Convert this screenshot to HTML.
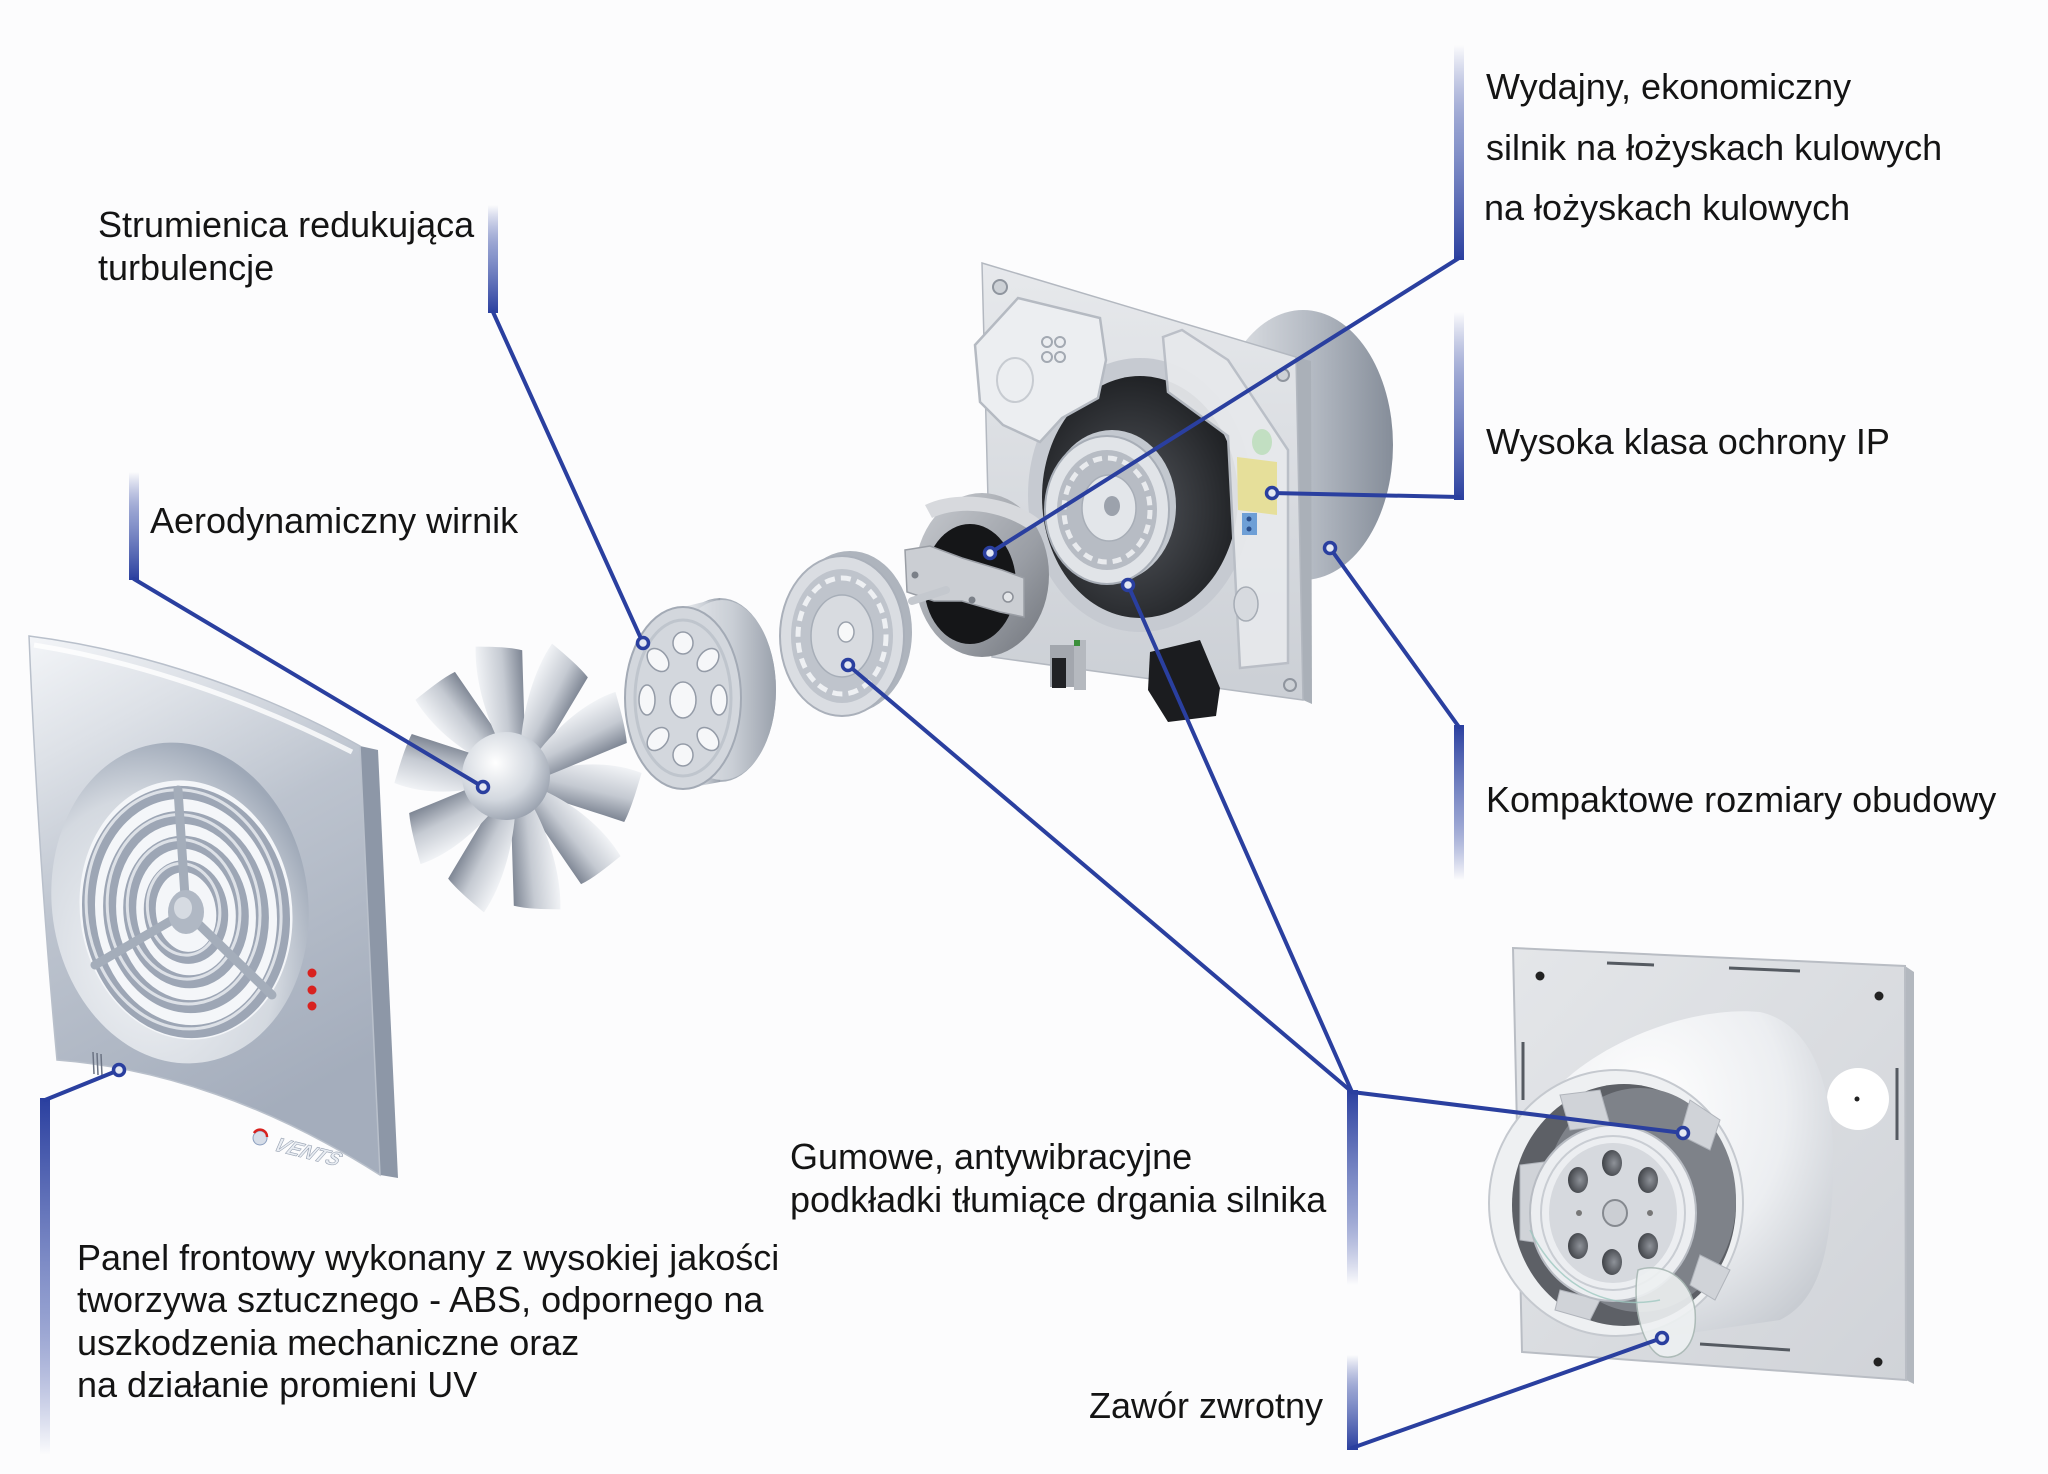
<!DOCTYPE html>
<html>
<head>
<meta charset="utf-8">
<style>
  html,body{margin:0;padding:0;background:#fcfcfd;}
  svg{display:block;}
  .t{font-family:"Liberation Sans",Arial,sans-serif;font-size:36px;fill:#141414;}
</style>
</head>
<body>
<svg width="2048" height="1474" viewBox="0 0 2048 1474" xmlns="http://www.w3.org/2000/svg">
  <defs>
    <linearGradient id="barUp" x1="0" y1="0" x2="0" y2="1">
      <stop offset="0" stop-color="#2a3f9f" stop-opacity="0"/>
      <stop offset="0.45" stop-color="#6f7fc0" stop-opacity="0.8"/>
      <stop offset="1" stop-color="#2a3f9f"/>
    </linearGradient>
    <linearGradient id="barDown" x1="0" y1="0" x2="0" y2="1">
      <stop offset="0" stop-color="#2a3f9f"/>
      <stop offset="0.55" stop-color="#6f7fc0" stop-opacity="0.8"/>
      <stop offset="1" stop-color="#2a3f9f" stop-opacity="0"/>
    </linearGradient>
    <linearGradient id="panelFace" x1="0" y1="0" x2="0.35" y2="1">
      <stop offset="0" stop-color="#f3f5f8"/>
      <stop offset="0.22" stop-color="#dde1e7"/>
      <stop offset="0.5" stop-color="#bcc3ce"/>
      <stop offset="1" stop-color="#a4adbc"/>
    </linearGradient>
    <radialGradient id="recess" cx="0.35" cy="0.65" r="0.7">
      <stop offset="0" stop-color="#f2f4f7"/>
      <stop offset="0.7" stop-color="#d4d9e0"/>
      <stop offset="1" stop-color="#9ea8b7"/>
    </radialGradient>
    <linearGradient id="bladeG" x1="0" y1="0" x2="0" y2="1">
      <stop offset="0" stop-color="#f1f3f6"/>
      <stop offset="0.55" stop-color="#c5cad2"/>
      <stop offset="1" stop-color="#7d8593"/>
    </linearGradient>
    <radialGradient id="hubG" cx="0.38" cy="0.35" r="0.7">
      <stop offset="0" stop-color="#ffffff"/>
      <stop offset="0.6" stop-color="#d3d8df"/>
      <stop offset="1" stop-color="#98a0ad"/>
    </radialGradient>
    <linearGradient id="rimG" x1="0" y1="0" x2="1" y2="0">
      <stop offset="0" stop-color="#eef0f3"/>
      <stop offset="0.6" stop-color="#c9ced5"/>
      <stop offset="1" stop-color="#9aa1ac"/>
    </linearGradient>
    <linearGradient id="cylG" x1="0" y1="0" x2="1" y2="0">
      <stop offset="0" stop-color="#e6e8eb"/>
      <stop offset="0.55" stop-color="#b4bac3"/>
      <stop offset="1" stop-color="#858d99"/>
    </linearGradient>
    <linearGradient id="plateG" x1="0" y1="0" x2="0" y2="1">
      <stop offset="0" stop-color="#e7e9ec"/>
      <stop offset="1" stop-color="#cbcfd5"/>
    </linearGradient>
    <radialGradient id="darkG" cx="0.45" cy="0.55" r="0.6">
      <stop offset="0" stop-color="#55585e"/>
      <stop offset="1" stop-color="#1c1e21"/>
    </radialGradient>
    <linearGradient id="motorRing" x1="0" y1="0" x2="1" y2="1">
      <stop offset="0" stop-color="#c9ccd1"/>
      <stop offset="0.6" stop-color="#9a9ea5"/>
      <stop offset="1" stop-color="#6f737a"/>
    </linearGradient>
    <linearGradient id="plate2G" x1="0" y1="0" x2="1" y2="1">
      <stop offset="0" stop-color="#e4e6e9"/>
      <stop offset="1" stop-color="#d0d3d8"/>
    </linearGradient>
    <radialGradient id="tubeG" cx="0.35" cy="0.3" r="0.8">
      <stop offset="0" stop-color="#ffffff"/>
      <stop offset="0.6" stop-color="#eceef1"/>
      <stop offset="1" stop-color="#c8ccd2"/>
    </radialGradient>
    <radialGradient id="holeG" cx="0.6" cy="0.5" r="0.6">
      <stop offset="0" stop-color="#8e9299"/>
      <stop offset="1" stop-color="#3f4247"/>
    </radialGradient>
  </defs>

  <rect width="2048" height="1474" fill="#fcfcfd"/>

  <!-- ================= FRONT PANEL ================= -->
  <path d="M360,746 L378,750 L398,1178 L380,1175 Z" fill="#8d97a7"/>
  <path d="M29,636 C140,650 260,690 360,746 L380,1175 C270,1105 160,1068 57,1060 C44,920 35,780 29,636 Z" fill="url(#panelFace)" stroke="#b9c0cb" stroke-width="1.5"/>
  <path d="M34,645 C140,662 250,700 352,752" fill="none" stroke="#ffffff" stroke-width="5" opacity="0.8"/>
  <!-- grille -->
  <ellipse cx="180" cy="903" rx="128" ry="161" transform="rotate(-8 180 903)" fill="url(#recess)"/>
  <ellipse cx="186" cy="910" rx="106" ry="130" transform="rotate(-8 186 910)" fill="#f4f6f9"/>
  <g fill="none" transform="rotate(-8 186 912)">
    <ellipse cx="186" cy="912" rx="97" ry="120" stroke="#9da6b5" stroke-width="13"/>
    <ellipse cx="184" cy="909" rx="97" ry="120" stroke="#dde1e7" stroke-width="3"/>
    <ellipse cx="186" cy="912" rx="76" ry="95" stroke="#9da6b5" stroke-width="13"/>
    <ellipse cx="184" cy="909" rx="76" ry="95" stroke="#dde1e7" stroke-width="3"/>
    <ellipse cx="186" cy="912" rx="56" ry="70" stroke="#9da6b5" stroke-width="13"/>
    <ellipse cx="184" cy="909" rx="56" ry="70" stroke="#dde1e7" stroke-width="3"/>
    <ellipse cx="186" cy="912" rx="36" ry="46" stroke="#9da6b5" stroke-width="12"/>
    <ellipse cx="184" cy="909" rx="36" ry="46" stroke="#dde1e7" stroke-width="3"/>
  </g>
  <g stroke="#a4adba" stroke-width="9" stroke-linecap="round">
    <line x1="186" y1="912" x2="178" y2="790"/>
    <line x1="186" y1="912" x2="95" y2="965"/>
    <line x1="186" y1="912" x2="272" y2="995"/>
  </g>
  <ellipse cx="186" cy="912" rx="18" ry="22" fill="#b0b8c4"/>
  <ellipse cx="183" cy="908" rx="9" ry="11" fill="#d6dbe2"/>
  <!-- red dots -->
  <circle cx="312" cy="973" r="4.5" fill="#d8221f"/>
  <circle cx="312" cy="990" r="4.5" fill="#d8221f"/>
  <circle cx="312" cy="1006" r="4.5" fill="#d8221f"/>
  <!-- vents marks -->
  <g stroke="#6b7383" stroke-width="1.5">
    <line x1="93" y1="1052" x2="94" y2="1074"/>
    <line x1="97" y1="1053" x2="98" y2="1075"/>
    <line x1="101" y1="1054" x2="102" y2="1076"/>
  </g>
  <!-- logo -->
  <circle cx="260" cy="1138" r="7" fill="#d6dde8" stroke="#8da0c0" stroke-width="1"/>
  <path d="M254,1133 A7,7 0 0 1 267,1137" fill="none" stroke="#d8221f" stroke-width="2.5"/>
  <text x="0" y="0" transform="translate(272,1150) rotate(14) skewX(-18)" font-family="Liberation Sans, Arial, sans-serif" font-size="20" font-weight="bold" font-style="italic" fill="#e9edf3" stroke="#97a1b1" stroke-width="0.6">VENTS</text>

  <!-- ================= IMPELLER ================= -->
  <g transform="translate(518,778) scale(1,1.13)">
    <g transform="rotate(12)"><path d="M26,-12 C55,-26 90,-34 120,-30 C118,-12 116,4 112,16 C85,14 55,12 26,10 Z" fill="url(#bladeG)"/></g>
    <g transform="rotate(48)"><path d="M26,-12 C55,-26 90,-34 120,-30 C118,-12 116,4 112,16 C85,14 55,12 26,10 Z" fill="url(#bladeG)"/></g>
    <g transform="rotate(84)"><path d="M26,-12 C55,-26 90,-34 120,-30 C118,-12 116,4 112,16 C85,14 55,12 26,10 Z" fill="url(#bladeG)"/></g>
    <g transform="rotate(120)"><path d="M26,-12 C55,-26 90,-34 120,-30 C118,-12 116,4 112,16 C85,14 55,12 26,10 Z" fill="url(#bladeG)"/></g>
    <g transform="rotate(156)"><path d="M26,-12 C55,-26 90,-34 120,-30 C118,-12 116,4 112,16 C85,14 55,12 26,10 Z" fill="url(#bladeG)"/></g>
    <g transform="rotate(192)"><path d="M26,-12 C55,-26 90,-34 120,-30 C118,-12 116,4 112,16 C85,14 55,12 26,10 Z" fill="url(#bladeG)"/></g>
    <g transform="rotate(228)"><path d="M26,-12 C55,-26 90,-34 120,-30 C118,-12 116,4 112,16 C85,14 55,12 26,10 Z" fill="url(#bladeG)"/></g>
    <g transform="rotate(264)"><path d="M26,-12 C55,-26 90,-34 120,-30 C118,-12 116,4 112,16 C85,14 55,12 26,10 Z" fill="url(#bladeG)"/></g>
    <g transform="rotate(300)"><path d="M26,-12 C55,-26 90,-34 120,-30 C118,-12 116,4 112,16 C85,14 55,12 26,10 Z" fill="url(#bladeG)"/></g>
    <g transform="rotate(336)"><path d="M26,-12 C55,-26 90,-34 120,-30 C118,-12 116,4 112,16 C85,14 55,12 26,10 Z" fill="url(#bladeG)"/></g>
  </g>
  <circle cx="506" cy="776" r="44" fill="url(#hubG)"/>

  <!-- ================= DIFFUSER (Strumienica) ================= -->
  <ellipse cx="720" cy="690" rx="56" ry="92" fill="#a9b0ba"/>
  <path d="M683,607 L720,598 L720,782 L683,789 Z" fill="url(#rimG)"/>
  <ellipse cx="722" cy="690" rx="54" ry="90" fill="url(#rimG)"/>
  <ellipse cx="683" cy="698" rx="58" ry="91" fill="#d3d7dd" stroke="#a3aab5" stroke-width="2"/>
  <ellipse cx="683" cy="698" rx="48" ry="78" fill="none" stroke="#bfc5cd" stroke-width="3"/>
  <g fill="#f6f7f9" stroke="#949ba7" stroke-width="1.5">
    <ellipse cx="719" cy="700" rx="8" ry="15"/>
    <ellipse cx="708" cy="739" rx="9" ry="13" transform="rotate(-40 708 739)"/>
    <ellipse cx="683" cy="755" rx="10" ry="11"/>
    <ellipse cx="658" cy="739" rx="9" ry="13" transform="rotate(40 658 739)"/>
    <ellipse cx="647" cy="700" rx="8" ry="15"/>
    <ellipse cx="658" cy="660" rx="9" ry="13" transform="rotate(-40 658 660)"/>
    <ellipse cx="683" cy="643" rx="10" ry="11"/>
    <ellipse cx="708" cy="660" rx="9" ry="13" transform="rotate(40 708 660)"/>
    <ellipse cx="683" cy="700" rx="13" ry="18"/>
  </g>

  <!-- ================= RUBBER DISC ================= -->
  <ellipse cx="850" cy="632" rx="62" ry="81" fill="#aeb4bd"/>
  <ellipse cx="842" cy="636" rx="62" ry="80" fill="#dadde2" stroke="#aab0ba" stroke-width="2"/>
  <ellipse cx="842" cy="636" rx="51" ry="67" fill="#bfc4cc"/>
  <ellipse cx="842" cy="636" rx="44" ry="58" fill="none" stroke="#eef0f3" stroke-width="5" stroke-dasharray="10 6"/>
  <ellipse cx="842" cy="636" rx="31" ry="41" fill="#d8dbe0" stroke="#a7aeb8" stroke-width="1.5"/>
  <ellipse cx="846" cy="632" rx="8" ry="10" fill="#f7f8f9" stroke="#9aa1ac" stroke-width="1.5"/>

  <!-- ================= HOUSING (top right) ================= -->
  <ellipse cx="1303" cy="445" rx="90" ry="135" fill="url(#cylG)"/>
  <path d="M1296,357 L1311,361 L1312,704 L1303,700 Z" fill="#aab0b8"/>
  <path d="M982,263 L1296,357 L1303,700 L992,657 Z" fill="url(#plateG)" stroke="#b3b8c0" stroke-width="1.5"/>
  <!-- corner screw holes -->
  <circle cx="1000" cy="287" r="7" fill="#cdd1d6" stroke="#8f959e" stroke-width="2"/>
  <circle cx="1283" cy="375" r="6" fill="#cdd1d6" stroke="#8f959e" stroke-width="2"/>
  <circle cx="1290" cy="685" r="6" fill="#cdd1d6" stroke="#8f959e" stroke-width="2"/>
  <!-- bore -->
  <ellipse cx="1140" cy="495" rx="112" ry="137" fill="#c6cad1"/>
  <ellipse cx="1140" cy="497" rx="98" ry="121" fill="url(#darkG)"/>
  <!-- upper-left terminal box -->
  <path d="M975,345 L1018,298 L1100,318 L1106,360 L1098,398 L1062,418 L1040,442 L1003,425 L980,402 Z" fill="#eceef1" stroke="#b5bac2" stroke-width="2.5"/>
  <circle cx="1047" cy="342" r="5" fill="none" stroke="#a3a9b2" stroke-width="2"/>
  <circle cx="1060" cy="342" r="5" fill="none" stroke="#a3a9b2" stroke-width="2"/>
  <circle cx="1047" cy="357" r="5" fill="none" stroke="#a3a9b2" stroke-width="2"/>
  <circle cx="1060" cy="357" r="5" fill="none" stroke="#a3a9b2" stroke-width="2"/>
  <ellipse cx="1015" cy="380" rx="18" ry="22" fill="none" stroke="#c7cbd1" stroke-width="2"/>
  <!-- right terminal strip -->
  <path d="M1163,337 L1182,330 L1228,360 L1288,450 L1288,663 L1240,668 L1228,436 L1168,392 Z" fill="#e7e9ec" stroke="#b9bec6" stroke-width="2.5" opacity="0.95"/>
  <ellipse cx="1262" cy="442" rx="10" ry="13" fill="#b9dcb8" opacity="0.8"/>
  <path d="M1237,457 L1277,462 L1277,515 L1238,510 Z" fill="#e6df9a"/>
  <rect x="1242" y="513" width="15" height="22" fill="#6e9fd6"/>
  <circle cx="1249" cy="519" r="2.5" fill="#2b4f8c"/>
  <circle cx="1249" cy="529" r="2.5" fill="#2b4f8c"/>
  <ellipse cx="1246" cy="604" rx="12" ry="17" fill="#d7dadf" stroke="#a6acb5" stroke-width="1.5"/>
  <!-- mount disc -->
  <ellipse cx="1112" cy="506" rx="64" ry="76" fill="#c3c8cf"/>
  <ellipse cx="1107" cy="510" rx="62" ry="74" fill="#e1e4e8" stroke="#a8aeb7" stroke-width="2"/>
  <ellipse cx="1107" cy="510" rx="50" ry="60" fill="#b7bcc4"/>
  <ellipse cx="1107" cy="510" rx="43" ry="52" fill="none" stroke="#e9ebee" stroke-width="5" stroke-dasharray="9 6"/>
  <ellipse cx="1109" cy="508" rx="27" ry="33" fill="#e3e6ea" stroke="#a8aeb7" stroke-width="1.5"/>
  <ellipse cx="1112" cy="506" rx="8" ry="10" fill="#9ca2ac"/>
  <!-- lower black components -->
  <path d="M1150,652 L1200,640 L1220,688 L1216,716 L1168,722 L1148,690 Z" fill="#1b1c1f"/>
  <rect x="1050" y="645" width="24" height="42" fill="#a3a7ae"/>
  <rect x="1052" y="658" width="14" height="30" fill="#202124"/>
  <rect x="1074" y="640" width="12" height="50" fill="#b5b9bf"/>
  <rect x="1074" y="640" width="6" height="6" fill="#3b8f3b"/>
  <!-- motor -->
  <ellipse cx="982" cy="575" rx="67" ry="82" fill="url(#motorRing)"/>
  <path d="M925,505 C955,490 1010,495 1040,520 L1030,530 C1000,510 960,505 932,518 Z" fill="#d7d9dd"/>
  <ellipse cx="970" cy="584" rx="46" ry="60" fill="#151618"/>
  <path d="M905,550 L930,546 L962,558 L1002,570 L1024,578 L1024,617 L1000,612 L962,601 L934,601 L907,592 Z" fill="#cbced3" stroke="#9a9ea5" stroke-width="1.5"/>
  <circle cx="915" cy="575" r="3.5" fill="#7b8088"/>
  <circle cx="972" cy="600" r="3.5" fill="#7b8088"/>
  <circle cx="1008" cy="597" r="5" fill="#e4e6e9" stroke="#8c9098" stroke-width="1.5"/>
  <line x1="912" y1="601" x2="946" y2="590" stroke="#c4c8ce" stroke-width="8" stroke-linecap="round"/>

  <!-- ================= ASSEMBLED FAN (bottom right) ================= -->
  <path d="M1905,966 L1914,972 L1914,1384 L1906,1380 Z" fill="#b3b8bf"/>
  <path d="M1513,948 L1905,966 L1906,1380 L1522,1352 Z" fill="url(#plate2G)" stroke="#b9bdc4" stroke-width="2"/>
  <g stroke="#555a61" stroke-width="3">
    <line x1="1607" y1="963" x2="1654" y2="965"/>
    <line x1="1729" y1="968" x2="1800" y2="971"/>
    <line x1="1523" y1="1042" x2="1523" y2="1100"/>
    <line x1="1897" y1="1068" x2="1897" y2="1140"/>
    <line x1="1700" y1="1344" x2="1790" y2="1350"/>
  </g>
  <circle cx="1540" cy="976" r="4.5" fill="#222"/>
  <circle cx="1879" cy="996" r="4.5" fill="#222"/>
  <circle cx="1878" cy="1362" r="4.5" fill="#222"/>
  <circle cx="1858" cy="1099" r="31" fill="#ffffff"/>
  <circle cx="1857" cy="1099" r="2.5" fill="#222"/>
  <!-- tube -->
  <path d="M1548,1098 C1590,1045 1690,1005 1760,1012 C1818,1025 1836,1100 1833,1180 C1830,1260 1816,1302 1780,1320 L1670,1336 Z" fill="url(#tubeG)"/>
  <!-- front ring -->
  <ellipse cx="1616" cy="1203" rx="127" ry="133" fill="#eef0f2" stroke="#c5c9cf" stroke-width="2"/>
  <ellipse cx="1624" cy="1205" rx="112" ry="121" fill="#5d6066"/>
  <ellipse cx="1640" cy="1200" rx="96" ry="112" fill="#7e8289"/>
  <!-- vanes -->
  <g fill="#d0d3d8" stroke="#b0b4bb" stroke-width="1">
    <path d="M1520,1165 L1560,1160 L1555,1245 L1520,1240 Z"/>
    <path d="M1560,1095 L1600,1090 L1610,1125 L1570,1130 Z"/>
    <path d="M1690,1100 L1720,1120 L1710,1150 L1680,1135 Z"/>
    <path d="M1700,1255 L1730,1270 L1715,1300 L1690,1285 Z"/>
    <path d="M1560,1290 L1600,1300 L1590,1320 L1555,1310 Z"/>
  </g>
  <!-- hub disc -->
  <ellipse cx="1613" cy="1213" rx="83" ry="88" fill="#eceef1" stroke="#b8bcc3" stroke-width="2"/>
  <ellipse cx="1613" cy="1213" rx="72" ry="77" fill="none" stroke="#c9cdd3" stroke-width="2"/>
  <ellipse cx="1613" cy="1213" rx="64" ry="70" fill="#d6d9de"/>
  <g fill="url(#holeG)">
    <ellipse cx="1578" cy="1180" rx="10" ry="13"/>
    <ellipse cx="1612" cy="1163" rx="10" ry="13"/>
    <ellipse cx="1648" cy="1180" rx="10" ry="13"/>
    <ellipse cx="1578" cy="1246" rx="10" ry="13"/>
    <ellipse cx="1612" cy="1262" rx="10" ry="13"/>
    <ellipse cx="1648" cy="1246" rx="10" ry="13"/>
  </g>
  <circle cx="1579" cy="1213" r="3" fill="#777"/>
  <circle cx="1650" cy="1213" r="3" fill="#777"/>
  <ellipse cx="1615" cy="1213" rx="12" ry="13" fill="#cbced3" stroke="#85898f" stroke-width="2"/>
  <!-- valve flap -->
  <path d="M1638,1270 C1660,1262 1690,1275 1695,1310 C1698,1345 1680,1362 1660,1356 C1640,1345 1632,1300 1638,1270 Z" fill="#eef1f2" stroke="#a9b8b4" stroke-width="1.5" opacity="0.9"/>
  <path d="M1530,1230 C1560,1290 1610,1310 1660,1300" fill="none" stroke="#9fc8c0" stroke-width="1.5" opacity="0.8"/>

  <!-- ================= CONNECTOR BARS ================= -->
  <rect x="488" y="205" width="10" height="108" fill="url(#barUp)"/>
  <rect x="129" y="472" width="10" height="108" fill="url(#barUp)"/>
  <rect x="1454" y="45" width="10" height="215" fill="url(#barUp)"/>
  <rect x="1454" y="312" width="10" height="188" fill="url(#barUp)"/>
  <rect x="1454" y="725" width="10" height="155" fill="url(#barDown)"/>
  <rect x="40" y="1098" width="10" height="357" fill="url(#barDown)"/>
  <rect x="1347" y="1090" width="11" height="195" fill="url(#barDown)"/>
  <rect x="1347" y="1355" width="11" height="95" fill="url(#barUp)"/>

  <!-- ================= LEADER LINES ================= -->
  <g stroke="#2a3f9f" stroke-width="4" fill="none" stroke-linecap="round" stroke-linejoin="round">
    <line x1="493" y1="312" x2="643" y2="643"/>
    <line x1="134" y1="579" x2="483" y2="787"/>
    <line x1="1459" y1="258" x2="990" y2="553"/>
    <polyline points="1459,497 1459,497 1272,493"/>
    <line x1="1330" y1="548" x2="1459" y2="727"/>
    <line x1="119" y1="1070" x2="45" y2="1100"/>
    <line x1="848" y1="665" x2="1352" y2="1092"/>
    <line x1="1128" y1="585" x2="1352" y2="1092"/>
    <line x1="1352" y1="1092" x2="1683" y2="1133"/>
    <line x1="1352" y1="1448" x2="1662" y2="1338"/>
  </g>

  <!-- ================= MARKERS ================= -->
  <g fill="#e4e8f2" stroke="#2a3f9f" stroke-width="3.5">
    <circle cx="643" cy="643" r="5.5"/>
    <circle cx="483" cy="787" r="5.5"/>
    <circle cx="990" cy="553" r="5.5"/>
    <circle cx="1272" cy="493" r="5.5"/>
    <circle cx="1330" cy="548" r="5.5"/>
    <circle cx="119" cy="1070" r="5.5"/>
    <circle cx="848" cy="665" r="5.5"/>
    <circle cx="1128" cy="585" r="5.5"/>
    <circle cx="1683" cy="1133" r="5.5"/>
    <circle cx="1662" cy="1338" r="5.5"/>
  </g>

  <!-- ================= LABELS ================= -->
  <text class="t" x="98" y="237">Strumienica redukująca</text>
  <text class="t" x="98" y="280">turbulencje</text>

  <text class="t" x="150" y="533">Aerodynamiczny wirnik</text>

  <text class="t" x="1486" y="99">Wydajny, ekonomiczny</text>
  <text class="t" x="1486" y="160">silnik na łożyskach kulowych</text>
  <text class="t" x="1484" y="220">na łożyskach kulowych</text>

  <text class="t" x="1486" y="454">Wysoka klasa ochrony IP</text>

  <text class="t" x="1486" y="812">Kompaktowe rozmiary obudowy</text>

  <text class="t" x="790" y="1169">Gumowe, antywibracyjne</text>
  <text class="t" x="790" y="1212">podkładki tłumiące drgania silnika</text>

  <text class="t" x="1089" y="1418">Zawór zwrotny</text>

  <text class="t" x="77" y="1270">Panel frontowy wykonany z wysokiej jakości</text>
  <text class="t" x="77" y="1312">tworzywa sztucznego - ABS, odpornego na</text>
  <text class="t" x="77" y="1355">uszkodzenia mechaniczne oraz</text>
  <text class="t" x="77" y="1397">na działanie promieni UV</text>
</svg>
</body>
</html>
